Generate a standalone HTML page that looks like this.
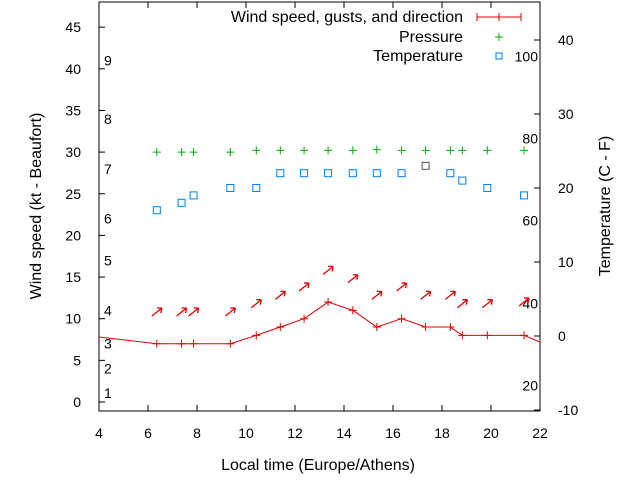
<!DOCTYPE html>
<html><head><meta charset="utf-8"><style>
body{margin:0;background:#fff;}
svg text{font-family:"Liberation Sans",sans-serif;font-size:14px;fill:#000;}
svg text.big{font-size:16px;}
</style></head><body>
<svg id="chart" width="640" height="480" xmlns="http://www.w3.org/2000/svg">
<g id="axes"></g><g id="marks"></g>
</svg>
<script>
const hours=[6.36,7.37,7.86,9.36,10.42,11.4,12.37,13.35,14.36,15.34,16.35,17.33,18.34,18.83,19.85,21.35];
const wind=[7,7,7,7,8,9,10,12,11,9,10,9,9,8,8,8];
const gusts=[10.8,10.8,10.8,10.8,11.8,12.8,13.8,15.8,14.8,12.8,13.8,12.8,12.8,11.8,11.8,12];
const pressure=[30,30,30,30,30.2,30.2,30.2,30.2,30.2,30.3,30.2,30.2,30.2,30.2,30.2,30.2];
const tempC=[17,18,19,20,20,22,22,22,22,22,22,23,22,21,20,19];
const windStart=7.8, windEnd=7.2;
const xTicks=[4,6,8,10,12,14,16,18,20,22];
const yTicks=[0,5,10,15,20,25,30,35,40,45];
const y2Ticks=[-10,0,10,20,30,40];
const beaufort=[[1,1.1],[2,4],[3,7],[4,11],[5,17],[6,22],[7,28],[8,34],[9,41]];
const fahr=[[20,-6.7],[40,4.4],[60,15.6],[80,26.7],[100,37.8]];
const L=99,R=540,T=2,B=411;
const X=h=>L+(h-4)/18*(R-L);
const Y=v=>402-v*8.33;
const Y2=c=>336-c*7.4;
const NS="http://www.w3.org/2000/svg";
function mk(tag,attrs,parent,txt){const e=document.createElementNS(NS,tag);for(const k in attrs)e.setAttribute(k,attrs[k]);if(txt!==undefined)e.textContent=txt;parent.appendChild(e);return e;}
const ax=document.getElementById('axes'),mg=document.getElementById('marks');
let fr=mk('rect',{x:L,y:T,width:R-L,height:B-T,fill:'none',stroke:'#000','stroke-width':1},ax);

xTicks.forEach(t=>{const x=X(t);mk('line',{x1:x,y1:B,x2:x,y2:B-6,stroke:'#000'},ax);mk('line',{x1:x,y1:T,x2:x,y2:T+6,stroke:'#000'},ax);
let tx=mk('text',{x:x,y:B+27,'text-anchor':'middle'},ax,t);});
yTicks.forEach(t=>{const y=Y(t);mk('line',{x1:L,y1:y,x2:L+6,y2:y,stroke:'#000'},ax);
let tx=mk('text',{x:L-18,y:y+5,'text-anchor':'end'},ax,t);});
y2Ticks.forEach(t=>{const y=Y2(t);mk('line',{x1:R,y1:y,x2:R-6,y2:y,stroke:'#000'},ax);
let tx=mk('text',{x:R+18,y:y+5},ax,t);});
beaufort.forEach(b=>{let tx=mk('text',{x:104,y:Y(b[1])+5},ax,b[0]);});
fahr.forEach(f=>{let tx=mk('text',{x:538,y:Y2(f[1])+5,'text-anchor':'end'},ax,f[0]);});
let xt=mk('text',{x:318,y:470,'text-anchor':'middle','class':'big'},ax,'Local time (Europe/Athens)');
let yt=mk('text',{x:0,y:0,'text-anchor':'middle','class':'big',transform:'translate(41,206) rotate(-90)'},ax,'Wind speed (kt - Beaufort)');
let y2t=mk('text',{x:0,y:0,'text-anchor':'middle','class':'big',transform:'translate(610,206) rotate(-90)'},ax,'Temperature (C - F)');
let pts=[[X(4),Y(windStart)]].concat(hours.map((h,i)=>[X(h),Y(wind[i])])).concat([[X(22),Y(windEnd)]]);
let wl=mk('polyline',{points:pts.map(p=>p.join(',')).join(' '),fill:'none',stroke:'#e00000','stroke-width':1},mg);

hours.forEach((h,i)=>{const x=X(h),y=Y(wind[i]);
let p=mk('path',{d:`M${x-4},${y}H${x+4}M${x},${y-4}V${y+4}`,stroke:'#e00000'},mg);
const gy=Y(gusts[i]);
let a=mk('path',{d:`M${x-5},${gy+4}L${x+5},${gy-4}M${x+5},${gy-4}l-5,0M${x+5},${gy-4}l-1,5`,stroke:'#e00000','stroke-width':1.3,fill:'none'},mg);
const py=Y(pressure[i]);
let g=mk('path',{d:`M${x-4},${py}H${x+4}M${x},${py-4}V${py+4}`,stroke:'#00b000'},mg);
const ty=Y2(tempC[i]);
let s=mk('rect',{x:x-3.5,y:ty-3.5,width:7,height:7,fill:'none',stroke:i==11?'#555':'#0080f0','stroke-width':1},mg);
});
const lg=mk('g',{},ax);
[['Wind speed, gusts, and direction',22],['Pressure',42],['Temperature',61]].forEach(r=>{let t=mk('text',{x:463,y:r[1],'text-anchor':'end','class':'big'},lg,r[0]);});
mk('path',{d:'M477,17H521M477,13V21M521,13V21M499,13V21',stroke:'#e00000'},lg);
mk('path',{d:'M495,37H503M499,33V41',stroke:'#00b000'},lg);
mk('rect',{x:496,y:53,width:6,height:6,fill:'none',stroke:'#0080f0'},lg);
</script>
</body></html>
